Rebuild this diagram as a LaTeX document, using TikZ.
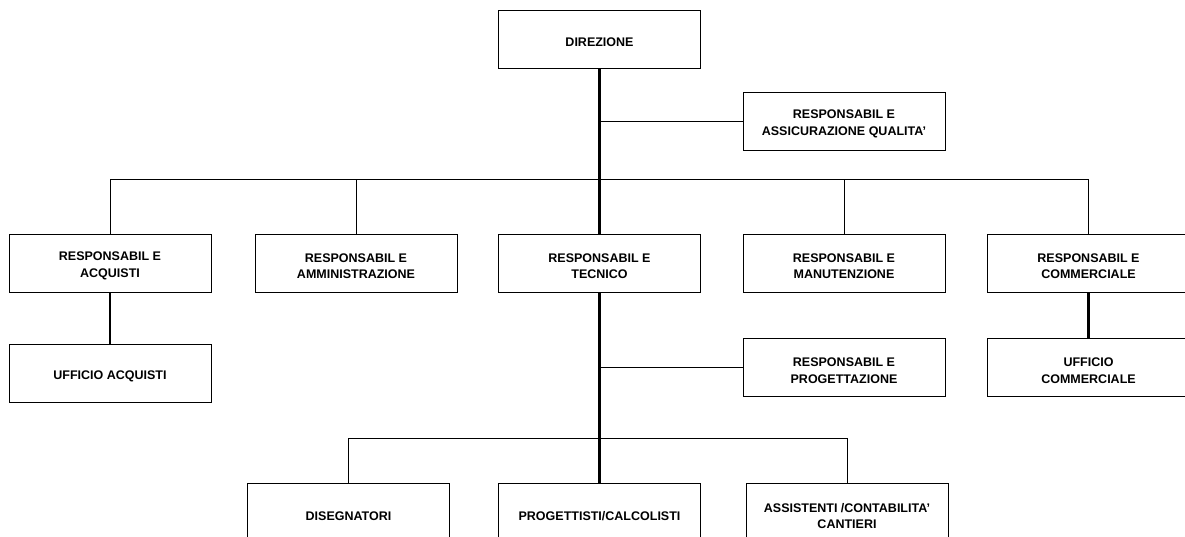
\documentclass[tikz,border=0pt]{standalone}
\usepackage{fontspec}
\setmainfont{Liberation Sans}
\begin{document}
\begin{tikzpicture}[x=1pt,y=-1pt,
  box/.style={draw=black,line width=1pt,minimum width=202pt,minimum height=58pt,inner sep=0pt},
  lbl/.style={font=\fontsize{12.5}{16.5}\selectfont\bfseries,align=center,inner sep=0pt},
  thin/.style={line width=1pt},
  thick/.style={line width=2.2pt}]
\useasboundingbox (0,0) rectangle (1185,536);
% boxes
\node[box] (dir) at (599.5,39.5) {};
\node[box] (raq) at (844,121) {};
\node[box] (acq) at (110,263) {};
\node[box] (amm) at (356,263) {};
\node[box] (tec) at (599.5,263) {};
\node[box] (man) at (844,263) {};
\node[box] (com) at (1088.5,263) {};
\node[box] (uacq) at (110,373.5) {};
\node[box] (prog) at (844,367.5) {};
\node[box] (ucom) at (1088.5,367.5) {};
\node[box] (dis) at (348.5,512) {};
\node[box] (calc) at (599.5,512) {};
\node[box] (ass) at (847,512) {};
% labels
\node[lbl] (dirl) at ([yshift=-3pt]dir.center) {DIREZIONE};
\node[lbl] (raql) at ([yshift=-3pt]raq.center) {RESPONSABIL E\\ASSICURAZIONE QUALITA'};
\node[lbl] (acql) at ([yshift=-3pt]acq.center) {RESPONSABIL E\\ACQUISTI};
\node[lbl] (amml) at ([yshift=-3pt]amm.center) {RESPONSABIL E\\AMMINISTRAZIONE};
\node[lbl] (tecl) at ([yshift=-3pt]tec.center) {RESPONSABIL E\\TECNICO};
\node[lbl] (manl) at ([yshift=-3pt]man.center) {RESPONSABIL E\\MANUTENZIONE};
\node[lbl] (coml) at ([yshift=-3pt]com.center) {RESPONSABIL E\\COMMERCIALE};
\node[lbl] (uacql) at ([yshift=-3pt]uacq.center) {UFFICIO ACQUISTI};
\node[lbl] (progl) at ([yshift=-3pt]prog.center) {RESPONSABIL E\\PROGETTAZIONE};
\node[lbl] (ucoml) at ([yshift=-3pt]ucom.center) {UFFICIO\\COMMERCIALE};
\node[lbl] (disl) at ([yshift=-4pt]dis.center) {DISEGNATORI};
\node[lbl] (calcl) at ([yshift=-4pt]calc.center) {PROGETTISTI/CALCOLISTI};
\node[lbl] (assl) at ([yshift=-4pt]ass.center) {ASSISTENTI /CONTABILITA'\\CANTIERI};
% coordinates
\coordinate (bus) at (599.5,179);
\coordinate (bus2) at (599.5,438);
% connectors
\draw[thick] (dir.south) -- (tec.north);
\draw[thick] (tec.south) -- (calc.north);
\draw[thin] (raq.west -| dir.south) -- (raq.west);
\draw[thin] (prog.west -| tec.south) -- (prog.west);
\draw[thin] (acq.north) -- (acq.north |- bus) -- (com.north |- bus) -- (com.north);
\draw[thin] (amm.north) -- (amm.north |- bus);
\draw[thin] (man.north) -- (man.north |- bus);
\draw[thin] (dis.north) -- (dis.north |- bus2) -- (ass.north |- bus2) -- (ass.north);
\draw[thick] (acq.south) -- (uacq.north);
\draw[thick] (com.south) -- (ucom.north);
\end{tikzpicture}
\end{document}
